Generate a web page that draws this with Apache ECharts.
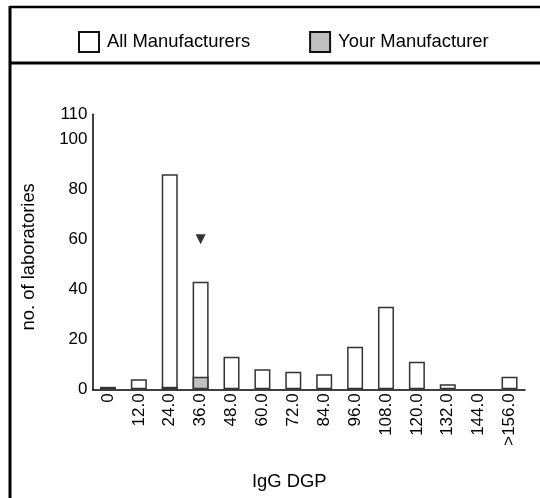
<!DOCTYPE html>
<html>
<head>
<meta charset="utf-8">
<script src="https://cdn.jsdelivr.net/npm/echarts@6/dist/echarts.min.js"></script>
<style>
html,body{margin:0;padding:0;background:#fff;}
#c{width:540px;height:498px;}
</style>
</head>
<body>
<div id="c"></div>
<script>
const categories = ['0','12.0','24.0','36.0','48.0','60.0','72.0','84.0','96.0','108.0','120.0','132.0','144.0','>156.0'];
const allManufacturers = [1,4,86,43,13,8,7,6,17,33,11,2,0,5];
const yourManufacturer = [0,0,1,5,0,0,0,0,0,0,0,0,0,0];
const yourResult = [['36.0', 60]];
const yTicks = [0,20,40,60,80,100,110];

const FONT = 'Liberation Sans, Arial, sans-serif';
const hideZero = v => (v === 0 ? '-' : v);
const chart = echarts.init(document.getElementById('c'), null, {renderer:'canvas'});
chart.setOption({
  animation:false,
  backgroundColor:'#fff',
  textStyle:{fontFamily:FONT, color:'#000'},
  legend:{
    left:73, top:26,
    itemWidth:20, itemHeight:20, itemGap:59,
    icon:'rect',
    data:['All Manufacturers','Your Manufacturer'],
    itemStyle:{borderColor:'#111', borderWidth:2},
    textStyle:{fontSize:18.4, color:'#000', fontFamily:FONT, padding:[0,0,0,3]}
  },
  grid:{left:92.5, right:15, top:114.3, bottom:108.7, containLabel:false},
  xAxis:{
    type:'category',
    data:categories,
    axisLine:{lineStyle:{color:'#000', width:1.5}},
    axisTick:{show:false},
    axisLabel:{rotate:90, fontSize:17, color:'#000', margin:4, interval:0, fontFamily:FONT}
  },
  yAxis:{
    type:'value', min:0, max:110, interval:20,
    name:'no. of laboratories', nameLocation:'middle', nameGap:55,
    nameTextStyle:{fontSize:18.4, color:'#000', fontFamily:FONT, padding:[0,10,0,0]},
    axisLine:{show:true, lineStyle:{color:'#000', width:1.5}},
    axisTick:{show:false},
    splitLine:{show:false},
    axisLabel:{fontSize:17, color:'#000', margin:5, fontFamily:FONT,
      formatter:function(v){return yTicks.indexOf(v)>=0 ? String(v) : '';}}
  },
  graphic:[
    {type:'line', shape:{x1:10,y1:7,x2:540,y2:7}, style:{stroke:'#000', lineWidth:2.5}},
    {type:'line', shape:{x1:10,y1:6,x2:10,y2:498}, style:{stroke:'#000', lineWidth:3}},
    {type:'line', shape:{x1:10,y1:63,x2:540,y2:63}, style:{stroke:'#000', lineWidth:3}},
    {type:'text', left:252, top:473, style:{text:'IgG DGP', font:'18.4px '+FONT, fill:'#000'}}
  ],
  series:[
    {name:'All Manufacturers', type:'bar', data:allManufacturers.map(hideZero), barWidth:16, barGap:'-100%',
      itemStyle:{color:'#fff', borderColor:'#333', borderWidth:1.5}},
    {name:'Your Manufacturer', type:'bar', data:yourManufacturer.map(hideZero), barWidth:16, barGap:'-100%',
      itemStyle:{color:'#c0c0c0', borderColor:'#333', borderWidth:1.5}},
    {name:'marker', type:'scatter', data:yourResult, symbol:'triangle', symbolRotate:180,
      symbolSize:[10,10], itemStyle:{color:'#000'}, silent:true}
  ]
});
</script>
</body>
</html>
